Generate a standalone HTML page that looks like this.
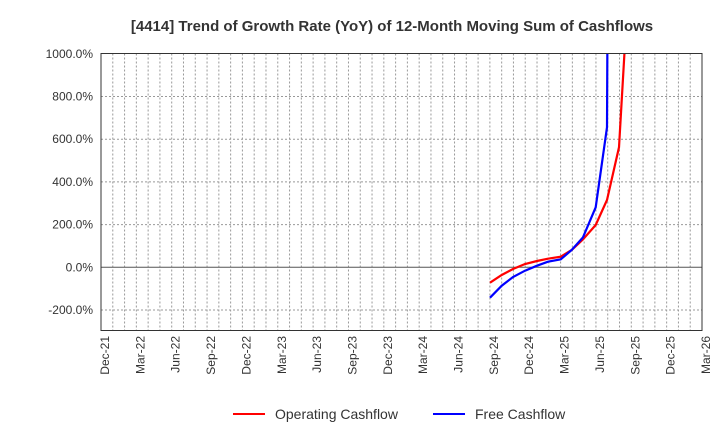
<!DOCTYPE html>
<html><head><style>body{margin:0;background:#fff;font-family:"Liberation Sans",sans-serif}</style></head><body>
<svg width="720" height="440" xmlns="http://www.w3.org/2000/svg" font-family="Liberation Sans, sans-serif">
<text x="392" y="31" font-size="15" font-weight="bold" text-anchor="middle" fill="#333">[4414]  Trend of Growth Rate (YoY) of 12-Month Moving Sum of Cashflows</text>
<defs><clipPath id="c"><rect x="101" y="53.5" width="601" height="277"/></clipPath></defs>
<g stroke="#999" stroke-dasharray="2,2" stroke-width="1" id="g"></g>
<g id="yl" font-size="12" fill="#333" text-anchor="end"></g>
<g id="xl" font-size="12" fill="#333"></g>
<line x1="101" y1="267.3" x2="702" y2="267.3" stroke="#555" stroke-width="1"/>
<g clip-path="url(#c)" fill="none" stroke-width="2.2">
<polyline stroke="#f00" points="490,282.7 501.7,275 513,269 525,264 537,261 548,258.7 560.7,256.7 571.7,250 583,239.3 595.7,225 607,200 619,147.3 631,-60"/>
<polyline stroke="#00f" points="490,297.7 501.7,285.7 513,277 525,270.7 537,265.7 548,261.7 560.7,259.3 571.7,250 583,237.3 595.7,207.3 607,127.3 608.5,-200"/>
</g>
<rect x="101" y="53.5" width="601" height="277" fill="none" stroke="#333" stroke-width="1"/>
<line x1="233" y1="414" x2="265" y2="414" stroke="#f00" stroke-width="2"/>
<text x="275" y="419" font-size="14" fill="#333">Operating Cashflow</text>
<line x1="433" y1="414" x2="465" y2="414" stroke="#00f" stroke-width="2"/>
<text x="475" y="419" font-size="14" fill="#333">Free Cashflow</text>
</svg>
<script>
var ns="http://www.w3.org/2000/svg",g=document.getElementById("g"),yl=document.getElementById("yl"),xl=document.getElementById("xl");
function el(p,t,a){var e=document.createElementNS(ns,t);for(var k in a)e.setAttribute(k,a[k]);p.appendChild(e);return e;}
var mw=601/51;
for(var i=1;i<51;i++){var x=101+i*mw;el(g,"line",{x1:x,y1:53.5,x2:x,y2:330.5});}
var labs=["Dec-21","Mar-22","Jun-22","Sep-22","Dec-22","Mar-23","Jun-23","Sep-23","Dec-23","Mar-24","Jun-24","Sep-24","Dec-24","Mar-25","Jun-25","Sep-25","Dec-25","Mar-26"];
labs.forEach(function(l,i){var x=101+i*3*mw+8;var t=el(xl,"text",{transform:"translate("+x+",336) rotate(-90)","text-anchor":"end"});t.textContent=l;});
for(var v=-200;v<=1000;v+=200){var y=267.3-v/200*42.7;if(v!=0&&v!=1000)el(g,"line",{x1:101,y1:y,x2:702,y2:y});var t=el(yl,"text",{x:93,y:y+4});t.textContent=v.toFixed(1)+"%";}
</script>
</body></html>
